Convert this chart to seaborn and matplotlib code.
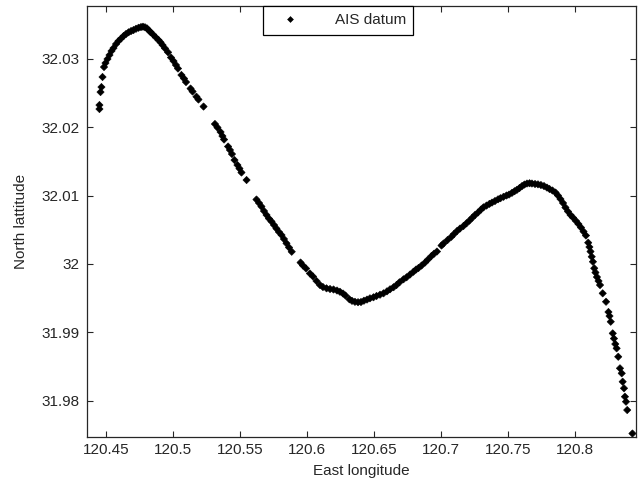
import matplotlib
matplotlib.use("Agg")
import matplotlib.pyplot as plt
import seaborn as sns
import pandas as pd

# AIS track points (East longitude, North latitude)
lon = [120.4451, 120.4451, 120.4459, 120.4466, 120.4474, 120.4485, 120.4496, 120.4511, 120.4526, 120.4541,
       120.4556, 120.4575, 120.4593, 120.4612, 120.4631, 120.4649, 120.4668, 120.4687, 120.4705, 120.4724,
       120.4743, 120.4761, 120.4776, 120.4791, 120.4806, 120.4821, 120.4832, 120.4851, 120.4873, 120.4892,
       120.4907, 120.4922, 120.4940, 120.4963, 120.4985, 120.5004, 120.5022, 120.5037, 120.5063, 120.5082,
       120.5097, 120.5131, 120.5146, 120.5175, 120.5190, 120.5228, 120.5313, 120.5332, 120.5355, 120.5369,
       120.5381, 120.5411, 120.5425, 120.5440, 120.5459, 120.5481, 120.5496, 120.5511, 120.5549, 120.5623,
       120.5642, 120.5660, 120.5679, 120.5698, 120.5716, 120.5735, 120.5754, 120.5772, 120.5791, 120.5810,
       120.5828, 120.5847, 120.5866, 120.5886, 120.5952, 120.5970, 120.5993, 120.6022, 120.6045, 120.6071,
       120.6097, 120.6119, 120.6146, 120.6172, 120.6198, 120.6224, 120.6246, 120.6269, 120.6287, 120.6317,
       120.6336, 120.6358, 120.6381, 120.6403, 120.6425, 120.6448, 120.6470, 120.6496, 120.6519, 120.6545,
       120.6571, 120.6597, 120.6620, 120.6646, 120.6668, 120.6690, 120.6720, 120.6743, 120.6769, 120.6795,
       120.6814, 120.6832, 120.6855, 120.6881, 120.6903, 120.6929, 120.6948, 120.6970, 120.7004, 120.7019,
       120.7049, 120.7078, 120.7097, 120.7120, 120.7142, 120.7168, 120.7190, 120.7213, 120.7235, 120.7254,
       120.7276, 120.7299, 120.7317, 120.7340, 120.7362, 120.7381, 120.7403, 120.7426, 120.7444, 120.7467,
       120.7489, 120.7508, 120.7530, 120.7549, 120.7567, 120.7586, 120.7605, 120.7623, 120.7642, 120.7661,
       120.7679, 120.7702, 120.7724, 120.7746, 120.7769, 120.7791, 120.7810, 120.7832, 120.7855, 120.7873,
       120.7892, 120.7911, 120.7929, 120.7948, 120.7967, 120.7985, 120.8008, 120.8026, 120.8045, 120.8064,
       120.8082, 120.8099, 120.8108, 120.8116, 120.8125, 120.8134, 120.8144, 120.8153, 120.8164, 120.8176,
       120.8187, 120.8207, 120.8232, 120.8250, 120.8258, 120.8267, 120.8282, 120.8291, 120.8301, 120.8311,
       120.8323, 120.8336, 120.8349, 120.8356, 120.8366, 120.8373, 120.8381, 120.8390, 120.8429]

lat = [32.02265, 32.02323, 32.02513, 32.02586, 32.02733, 32.02879, 32.02937, 32.02996, 32.03054, 32.03113,
       32.03156, 32.03215, 32.03259, 32.03295, 32.03332, 32.03361, 32.03386, 32.03405, 32.03419, 32.03438,
       32.03453, 32.03463, 32.03468, 32.03460, 32.03444, 32.03412, 32.03390, 32.03354, 32.03310, 32.03273,
       32.03240, 32.03200, 32.03152, 32.03094, 32.03018, 32.02966, 32.02908, 32.02857, 32.02762, 32.02711,
       32.02659, 32.02564, 32.02521, 32.02445, 32.02404, 32.02301, 32.02046, 32.01994, 32.01929, 32.01870,
       32.01819, 32.01717, 32.01666, 32.01607, 32.01519, 32.01446, 32.01395, 32.01337, 32.01227, 32.00942,
       32.00891, 32.00840, 32.00774, 32.00716, 32.00664, 32.00621, 32.00569, 32.00518, 32.00467, 32.00423,
       32.00365, 32.00302, 32.00241, 32.00179, 32.00021, 31.99977, 31.99934, 31.99861, 31.99817, 31.99751,
       31.99692, 31.99663, 31.99644, 31.99634, 31.99627, 31.99612, 31.99594, 31.99568, 31.99539, 31.99483,
       31.99461, 31.99447, 31.99441, 31.99444, 31.99463, 31.99480, 31.99498, 31.99513, 31.99532, 31.99551,
       31.99571, 31.99600, 31.99630, 31.99660, 31.99692, 31.99732, 31.99776, 31.99805, 31.99846, 31.99887,
       31.99919, 31.99941, 31.99977, 32.00021, 32.00065, 32.00116, 32.00150, 32.00182, 32.00270, 32.00299,
       32.00350, 32.00398, 32.00438, 32.00482, 32.00518, 32.00555, 32.00594, 32.00635, 32.00679, 32.00716,
       32.00752, 32.00796, 32.00828, 32.00854, 32.00879, 32.00898, 32.00920, 32.00945, 32.00961, 32.00982,
       32.01001, 32.01015, 32.01040, 32.01063, 32.01084, 32.01110, 32.01139, 32.01161, 32.01176, 32.01180,
       32.01176, 32.01169, 32.01164, 32.01154, 32.01139, 32.01117, 32.01096, 32.01074, 32.01044, 32.01001,
       32.00949, 32.00891, 32.00825, 32.00767, 32.00716, 32.00679, 32.00628, 32.00584, 32.00533, 32.00474,
       32.00416, 32.00311, 32.00248, 32.00182, 32.00106, 32.00033, 31.99937, 31.99875, 31.99809, 31.99751,
       31.99692, 31.99571, 31.99448, 31.99298, 31.99239, 31.99156, 31.98986, 31.98910, 31.98830, 31.98767,
       31.98644, 31.98475, 31.98402, 31.98279, 31.98183, 31.98060, 31.97987, 31.97865, 31.97522]

x_ticks = [120.45, 120.5, 120.55, 120.6, 120.65, 120.7, 120.75, 120.8]
x_ticklabels = ["120.45", "120.5", "120.55", "120.6", "120.65", "120.7", "120.75", "120.8"]
y_ticks = [31.98, 31.99, 32.0, 32.01, 32.02, 32.03]
y_ticklabels = ["31.98", "31.99", "32", "32.01", "32.02", "32.03"]

sns.set_theme(style="white")
plt.rcParams["font.family"] = ["Liberation Sans", "DejaVu Sans"]

df = pd.DataFrame({"East longitude": lon, "North lattitude": lat, "series": "AIS datum"})

fig = plt.figure(figsize=(6.4, 4.88), dpi=100)
ax = fig.add_axes([0.1355, 0.1055, 0.8575, 0.8832])

sns.scatterplot(data=df, x="East longitude", y="North lattitude", hue="series",
                palette=["black"], marker="D", s=14, edgecolor="black", linewidth=0.4,
                ax=ax, legend=True)

ax.set_xlim(120.4356, 120.8452)
ax.set_ylim(31.97478, 32.03778)
ax.set_xticks(x_ticks)
ax.set_xticklabels(x_ticklabels)
ax.set_yticks(y_ticks)
ax.set_yticklabels(y_ticklabels)

ax.tick_params(direction="in", length=4.5, width=0.8, color="#262626",
               top=True, right=True, bottom=True, left=True,
               labelsize=11, labelcolor="#262626", pad=5)
for sp in ax.spines.values():
    sp.set_visible(True)
    sp.set_color("#262626")
    sp.set_linewidth(0.9)

ax.set_xlabel("East longitude", fontsize=11, color="#262626", labelpad=5)
ax.set_ylabel("North lattitude", fontsize=11, color="#262626", labelpad=10)

leg = ax.legend(loc="upper left", bbox_to_anchor=(0.3207, 1.0), borderaxespad=0,
                frameon=True, fancybox=False, edgecolor="black", framealpha=1,
                fontsize=11, markerscale=0.8, handletextpad=1.6, borderpad=0.5,
                handlelength=2.6)
leg.get_frame().set_linewidth(0.9)

fig.savefig("out.png", dpi=100)
